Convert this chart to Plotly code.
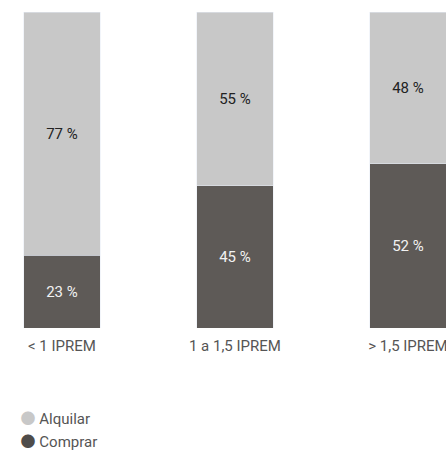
import plotly.graph_objects as go

categorias = ['< 1 IPREM', '1 a 1,5 IPREM', '> 1,5 IPREM']
comprar = [23, 45, 52]
alquilar = [77, 55, 48]

color_alquilar = '#c8c8c8'
color_comprar = '#5e5a57'

fig = go.Figure()
# barras apiladas: comprar abajo, alquilar arriba
fig.add_trace(go.Bar(x=categorias, y=comprar, name='Comprar',
                     marker_color=color_comprar, width=0.44,
                     text=[f'{v} %' for v in comprar], textposition='inside',
                     insidetextanchor='middle',
                     textfont=dict(color='#f2f2f2', size=15),
                     showlegend=False, hoverinfo='skip'))
fig.add_trace(go.Bar(x=categorias, y=alquilar, name='Alquilar',
                     marker_color=color_alquilar, width=0.44,
                     text=[f'{v} %' for v in alquilar], textposition='inside',
                     insidetextanchor='middle',
                     textfont=dict(color='#222222', size=15),
                     showlegend=False, hoverinfo='skip'))

# leyenda: el círculo va en el propio texto para dejarlo pegado a la etiqueta
def entrada(nombre, color):
    return (f'<span style="color:{color};font-family:Noto Sans CJK JP;'
            f'font-size:15px">●</span> {nombre}')

fig.add_trace(go.Scatter(x=[None], y=[None], mode='markers',
                         name=entrada('Alquilar', color_alquilar),
                         marker=dict(color='white', size=1, opacity=0), legendgroup='a'))
fig.add_trace(go.Scatter(x=[None], y=[None], mode='markers',
                         name=entrada('Comprar', '#4f4c4a'),
                         marker=dict(color='white', size=1, opacity=0), legendgroup='b'))

fig.update_layout(
    width=446, height=461,
    barmode='stack',
    margin=dict(l=0, r=0, t=12, b=133, autoexpand=False),
    plot_bgcolor='white', paper_bgcolor='white',
    font=dict(family='Roboto', size=15, color='#555555'),
    xaxis=dict(type='category', range=[-0.358, 2.22], showgrid=False,
               showline=False, zeroline=False, ticks='', ticklabelstandoff=7,
               tickfont=dict(size=15, color='#555555')),
    yaxis=dict(range=[0, 100], visible=False),
    legend=dict(orientation='v', x=-0.0435, xanchor='left', y=-0.234, yanchor='top',
                traceorder='grouped', tracegroupgap=0,
                font=dict(size=15, color='#555555')),
)

# sin el margen por defecto del navegador, la figura ocupa toda la ventana
fig.write_html('out.html', config={'displayModeBar': False},
               post_script="document.body.style.margin='0';")
